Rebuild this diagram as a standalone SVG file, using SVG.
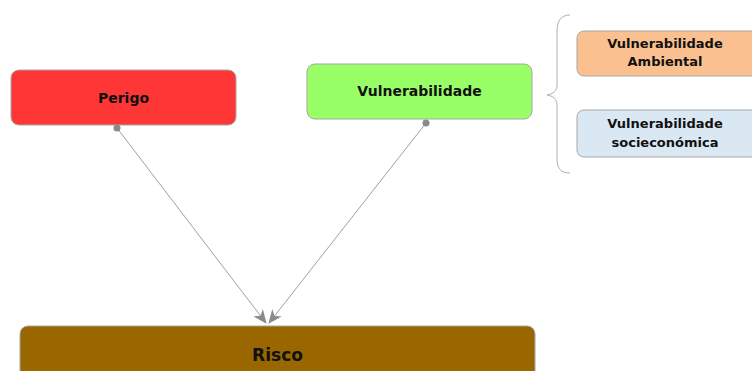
<svg xmlns="http://www.w3.org/2000/svg" width="752" height="371" viewBox="0 0 752 371">
<style>
.box{stroke:#a6a6a6;stroke-width:1}
.t{font-family:"DejaVu Sans",sans-serif;font-weight:bold;fill:#111;text-anchor:middle}
.c{stroke:#a0a0a0;stroke-width:1;fill:none}
</style>
<defs>
<marker id="ah" viewBox="0 0 14 12" refX="13" refY="6" markerWidth="14" markerHeight="12" markerUnits="userSpaceOnUse" orient="auto">
<path d="M0,0 L14,6 L0,12 L4,6 Z" fill="#8a8a8a"/>
</marker>
</defs>
<g id="perigo">
<rect class="box" x="11" y="70" width="225" height="55" rx="8" fill="#ff3636"/>
<text class="t" x="123.5" y="102.5" font-size="14">Perigo</text>
</g>
<g id="vulnerabilidade">
<rect class="box" x="307" y="64" width="225" height="55" rx="8" fill="#99ff66"/>
<text class="t" x="419.5" y="96" font-size="14">Vulnerabilidade</text>
</g>
<g id="brace">
<path d="M570,15 C560,15 557,22 557,32 L557,85 C557,91 553,94 547,95 C553,96 557,99 557,105 L557,158 C557,168 560,173 570,173" fill="none" stroke="#b0b0b0" stroke-width="1"/>
</g>
<g id="ambiental">
<rect class="box" x="577" y="31" width="185" height="45" rx="7" fill="#fac090" stroke="none"/>
<text class="t" x="665" y="48" font-size="13">Vulnerabilidade</text>
<text class="t" x="665" y="66" font-size="13">Ambiental</text>
</g>
<g id="socio">
<rect class="box" x="577" y="110" width="185" height="47" rx="7" fill="#dae8f4" stroke="#a8b8c8"/>
<text class="t" x="665" y="128" font-size="13">Vulnerabilidade</text>
<text class="t" x="665" y="147" font-size="13">socieconómica</text>
</g>
<g id="risco">
<rect class="box" x="20" y="326" width="515" height="60" rx="8" fill="#996600"/>
<text class="t" x="277.5" y="361" font-size="17">Risco</text>
</g>
<g id="connectors">
<line class="c" x1="117" y1="128" x2="266" y2="323" marker-end="url(#ah)"/>
<line class="c" x1="426" y1="123" x2="269" y2="323" marker-end="url(#ah)"/>
<circle cx="117" cy="128" r="3.5" fill="#8a8a8a"/>
<circle cx="426" cy="123" r="3.5" fill="#8a8a8a"/>
</g>
</svg>
